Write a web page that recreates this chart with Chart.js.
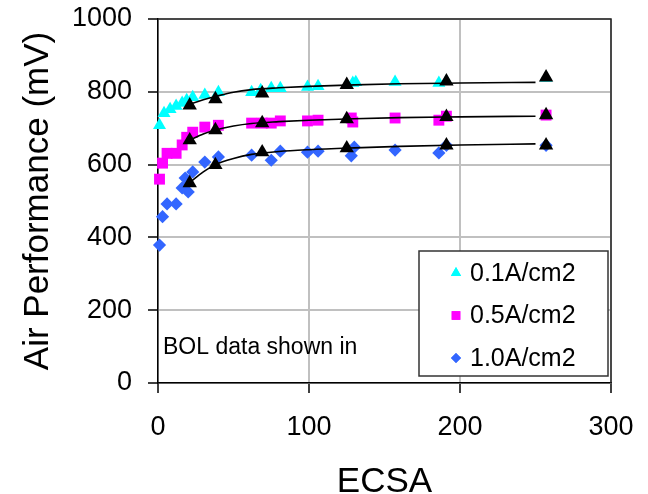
<!DOCTYPE html>
<html>
<head>
<meta charset="utf-8">
<script src="https://cdn.jsdelivr.net/npm/chart.js"></script>
<style>
  html, body { margin: 0; padding: 0; background: #fff; }
  #wrap { width: 648px; height: 494px; }
</style>
</head>
<body>
<div id="wrap"><canvas id="chart" width="648" height="494"></canvas></div>
<script>
// measured points, ECSA vs air performance (mV)
const ecsa01 = [1, 4, 8, 12, 16, 19, 23, 31, 40, 62, 68, 75, 81, 99, 106, 129, 131, 157, 186, 191, 257];
const mv01 = [708, 741, 752, 761, 769, 777, 785, 791, 799, 799, 804, 810, 810, 813, 815, 824, 826, 827, 824, 829, 838];

const ecsa05 = [1, 3, 6, 12, 16, 19, 23, 31, 40, 62, 69, 75, 81, 99, 106, 128, 129, 157, 186, 191, 257];
const mv05 = [560, 604, 631, 631, 654, 675, 689, 703, 708, 714, 714, 714, 720, 720, 722, 728, 717, 728, 722, 733, 736];

const ecsa10 = [1, 3, 6, 12, 16, 18, 20, 23, 31, 40, 62, 75, 81, 99, 106, 128, 130, 157, 186, 191, 257];
const mv10 = [379, 457, 492, 492, 536, 563, 525, 580, 607, 621, 626, 612, 637, 634, 637, 624, 648, 640, 632, 653, 653];

// BOL points (black triangles)
const ecsaBOL = [21, 38, 69, 125, 191, 257];
const bol01 = [763, 780, 796, 819, 829, 840];
const bol05 = [667, 695, 714, 725, 731, 736];
const bol10 = [549, 599, 634, 645, 653, 653];

// fitted curves
const ecsaFit = [21, 30, 38, 50, 62, 80, 100, 130, 160, 200, 250];
const fit01 = [766, 778, 787, 799, 806, 811, 815, 819, 822, 824, 826];
const fit05 = [667, 684, 695, 706, 713, 718, 722, 726, 729, 731, 733];
const fit10 = [551, 580, 600, 617, 628, 636, 641, 646, 650, 654, 657];

const xTicks = [0, 100, 200, 300];
const yTicks = [0, 200, 400, 600, 800, 1000];

const FONT = "'Liberation Sans', Arial, sans-serif";

function pts(xs, ys) {
  return xs.map((x, i) => ({ x: x, y: ys[i] }));
}

function fitLine(ys) {
  return {
    type: "line",
    data: pts(ecsaFit, ys),
    borderColor: "#000",
    borderWidth: 1.6,
    pointRadius: 0,
    cubicInterpolationMode: "monotone",
    showLine: true,
    clip: false,
    order: 1,
    inLegend: false,
  };
}

function bolSet(ys) {
  return {
    type: "scatter",
    data: pts(ecsaBOL, ys),
    pointStyle: "triangle",
    pointRadius: 8.3,
    backgroundColor: "#000",
    borderColor: "#000",
    borderWidth: 0,
    clip: false,
    order: 0,
    inLegend: false,
  };
}

const datasets = [
  {
    label: "0.1A/cm2",
    data: pts(ecsa01, mv01),
    pointStyle: "triangle",
    pointRadius: 7.5,
    backgroundColor: "#00ffff",
    borderColor: "#00ffff",
    borderWidth: 0,
    clip: false,
    order: 2,
    inLegend: true,
  },
  {
    label: "0.5A/cm2",
    data: pts(ecsa05, mv05),
    pointStyle: "rect",
    pointRadius: 7.7,
    backgroundColor: "#ff00ff",
    borderColor: "#ff00ff",
    borderWidth: 0,
    clip: false,
    order: 2,
    inLegend: true,
  },
  {
    label: "1.0A/cm2",
    data: pts(ecsa10, mv10),
    pointStyle: "rectRot",
    pointRadius: 6.6,
    backgroundColor: "#3366ff",
    borderColor: "#3366ff",
    borderWidth: 0,
    clip: false,
    order: 2,
    inLegend: true,
  },
  fitLine(fit01),
  fitLine(fit05),
  fitLine(fit10),
  bolSet(bol01),
  bolSet(bol05),
  bolSet(bol10),
];

// top + right frame, note text and the boxed legend inside the plot
const framePlugin = {
  id: "frame",
  beforeDatasetsDraw(chart) {
    const { ctx, chartArea: a } = chart;
    ctx.save();
    ctx.strokeStyle = "#222";
    ctx.lineWidth = 1.5;
    ctx.beginPath();
    ctx.moveTo(a.left, a.top);
    ctx.lineTo(a.right, a.top);
    ctx.lineTo(a.right, a.bottom);
    ctx.stroke();

    ctx.fillStyle = "#000";
    ctx.font = "23px " + FONT;
    ctx.textBaseline = "middle";
    ctx.textAlign = "left";
    ctx.fillText("BOL data shown in", a.left + 5, a.bottom - 35);
    ctx.restore();
  },
  afterDraw(chart) {
    const { ctx, chartArea: a } = chart;
    const items = chart.data.datasets.filter((d) => d.inLegend);
    const boxW = 189, boxH = 125;
    const bx = a.right - 3 - boxW;
    const by = a.bottom - 7 - boxH;
    ctx.save();
    ctx.fillStyle = "#fff";
    ctx.fillRect(bx, by, boxW, boxH);
    ctx.strokeStyle = "#333";
    ctx.lineWidth = 1.5;
    ctx.strokeRect(bx, by, boxW, boxH);
    ctx.font = "25px " + FONT;
    ctx.textBaseline = "middle";
    ctx.textAlign = "left";
    items.forEach((d, i) => {
      const cy = by + 22 + i * 42.5;
      const cx = bx + 37;
      ctx.fillStyle = d.backgroundColor;
      Chart.helpers.drawPoint(ctx, {
        pointStyle: d.pointStyle,
        radius: d.pointRadius - 1.6,
        rotation: 0,
        borderWidth: 0,
      }, cx, cy);
      ctx.fill();
      ctx.fillStyle = "#000";
      ctx.fillText(d.label, bx + 51, cy + 1);
    });
    ctx.restore();
  },
};

new Chart(document.getElementById("chart"), {
  type: "scatter",
  data: { datasets: datasets },
  plugins: [framePlugin],
  options: {
    responsive: false,
    animation: false,
    layout: { padding: { top: 19, right: 37, left: 0, bottom: 0 } },
    plugins: { legend: { display: false }, tooltip: { enabled: false } },
    scales: {
      x: {
        type: "linear",
        min: 0,
        max: 300,
        afterBuildTicks(scale) {
          scale.ticks = xTicks.map((v) => ({ value: v }));
        },
        afterFit(scale) {
          scale.height = 111;
          scale.paddingLeft = 0;
          scale.paddingRight = 0;
        },
        grid: {
          color: "#c0c0c0",
          lineWidth: 2,
          tickLength: 10,
          tickColor: "#000",
          tickWidth: 1.5,
        },
        border: { color: "#000", width: 1.5 },
        ticks: {
          color: "#000",
          padding: 18,
          font: { family: FONT, size: 27 },
          callback: (v) => String(v),
        },
        title: {
          display: true,
          text: "ECSA",
          color: "#000",
          font: { family: FONT, size: 35, lineHeight: 0.66 },
          padding: { top: 0, bottom: 0 },
        },
      },
      y: {
        type: "linear",
        min: 0,
        max: 1000,
        afterBuildTicks(scale) {
          scale.ticks = yTicks.map((v) => ({ value: v }));
        },
        afterFit(scale) {
          scale.width = 158;
          scale.paddingTop = 0;
          scale.paddingBottom = 0;
        },
        grid: {
          color: "#c0c0c0",
          lineWidth: 2,
          tickLength: 10,
          tickColor: "#000",
          tickWidth: 1.5,
        },
        border: { color: "#000", width: 1.5 },
        ticks: {
          color: "#000",
          padding: 16,
          font: { family: FONT, size: 27 },
          callback: (v) => String(v),
        },
        title: {
          display: true,
          text: "Air Performance (mV)",
          color: "#000",
          font: { family: FONT, size: 35, lineHeight: 1 },
          padding: { top: 21, bottom: 0 },
        },
      },
    },
  },
});
</script>
</body>
</html>
